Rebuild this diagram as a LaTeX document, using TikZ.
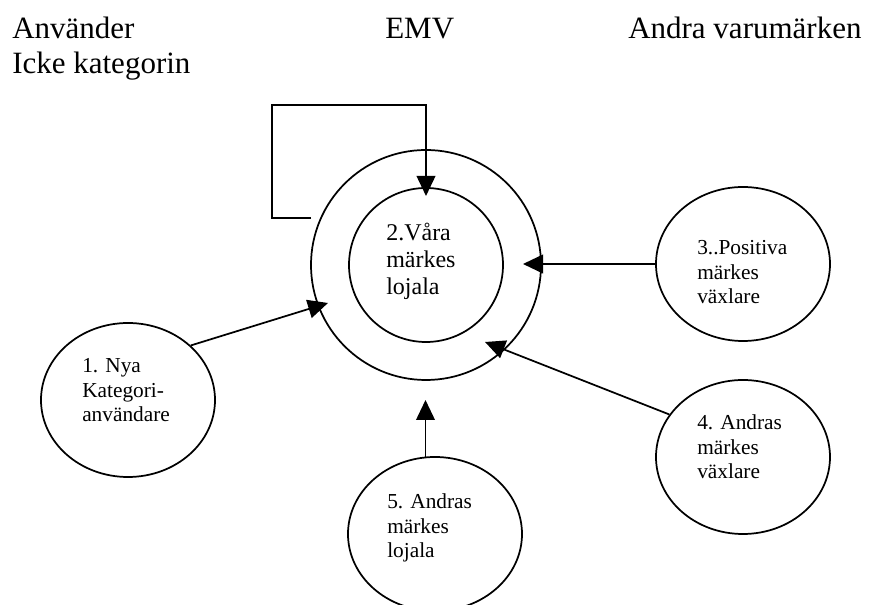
\documentclass[tikz,border=0pt]{standalone}
\usepackage{fontspec}
\setmainfont{Liberation Serif}
\usetikzlibrary{shapes.geometric,arrows.meta}
% left-aligned block of lines whose baseline is that of its first line
\newcommand\txtblock[2][75pt]{\parbox[t]{#1}{\raggedright #2}}
\begin{document}
\begin{tikzpicture}[x=0.75pt,y=-0.75pt,
  ring/.style={circle, draw, line width=1.3pt, inner sep=0pt},
  oval/.style={ellipse, draw, line width=1.3pt, inner sep=0pt,
               minimum width=130.5pt, minimum height=115.5pt},
  hdr/.style={anchor=base west, inner sep=0pt, font=\fontsize{23.25}{26.25}\selectfont},
  inn/.style={anchor=base west, inner sep=0pt, font=\fontsize{18}{20.25}\selectfont},
  lbl/.style={anchor=base west, inner sep=0pt, font=\fontsize{16}{18.3}\selectfont},
  arr/.style={draw, line width=1.3pt, -{Triangle[length=15pt,width=14pt]}}]
\useasboundingbox (0,0) rectangle (869,605);

% column headings
\node[hdr] (hA) at (12,39) {\txtblock[150pt]{Använder\\Icke kategorin}};
\node[hdr] (hB) at (385,39) {EMV};
\node[hdr] (hC) at (628,39) {Andra varumärken};

% central rings
\node[ring, minimum size=172.5pt] (outer) at (426,265) {};
\node[ring, minimum size=115.5pt] (inner) at (426,265) {};
\node[inn] (t2) at (386,241) {\txtblock[80pt]{2.Våra\\märkes\\lojala}};

% surrounding groups
\node[oval] (e1) at (128,400) {};
\node[oval] (e3) at (743,264) {};
\node[oval] (e4) at (743,457) {};
\node[oval] (e5) at (435,534) {};
\node[lbl] (t1) at (82,373) {\txtblock{1. Nya\\Kategori-\\användare}};
\node[lbl] (t3) at (697,255) {\txtblock{3..Positiva\\märkes\\växlare}};
\node[lbl] (t4) at (697,430) {\txtblock{4. Andras\\märkes\\växlare}};
\node[lbl] (t5) at (387,509) {\txtblock{5. Andras\\märkes\\lojala}};

% arrow ends between the rings
\coordinate (tip1) at (328,303);
\coordinate (tip2) at (426,196);
\coordinate (tip3) at (523,264);
\coordinate (tip4) at (485,342);
\coordinate (tip5) at (426,400);
\coordinate (loopend) at (311,218);
\coordinate (loopcorner) at (272,105);

% flows
\draw[arr] (e1.41) -- (tip1);
\draw[arr] (e3.west) -- (tip3);
\draw[arr] (e4.150) -- (tip4);
\draw[arr] (e5.97) -- (e5.97 |- tip5);
\draw[arr] (loopend) -| (loopcorner) -| (tip2);
\end{tikzpicture}
\end{document}
